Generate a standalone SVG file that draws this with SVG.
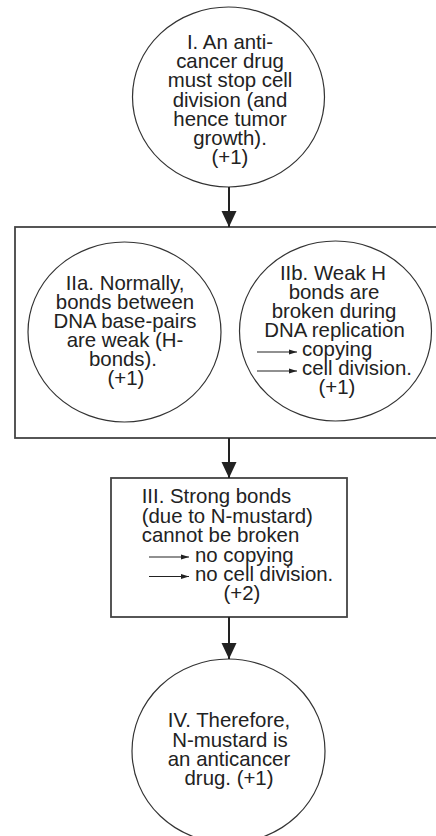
<svg xmlns="http://www.w3.org/2000/svg" width="436" height="836" viewBox="0 0 436 836">
<defs>
<marker id="big" viewBox="0 0 16 16" markerWidth="16" markerHeight="16" refX="16" refY="8" markerUnits="userSpaceOnUse" orient="auto">
<path d="M0,0.5 L16,8 L0,15.5 Z" fill="#222"/>
</marker>
<marker id="small" viewBox="0 0 8 6" markerWidth="8" markerHeight="6" refX="8" refY="3" markerUnits="userSpaceOnUse" orient="auto">
<path d="M0,0.5 L8,3 L0,5.5 Z" fill="#222"/>
</marker>
</defs>
<style>
text{font-family:"Liberation Sans",Arial,sans-serif;font-size:20.4px;fill:#222}
.c{text-anchor:middle}
.shape{fill:#fff;stroke:#333;stroke-width:1.2}
.box{fill:none;stroke:#444;stroke-width:1.8}
.conn{stroke:#222;stroke-width:2;fill:none;marker-end:url(#big)}
.inl{stroke:#222;stroke-width:1.2;fill:none;marker-end:url(#small)}
</style>
<rect width="436" height="836" fill="#fff"/>
<g id="node-I">
<ellipse class="shape" cx="228.5" cy="97" rx="96" ry="90"/>
<text class="c" x="230" y="49">I. An anti-</text>
<text class="c" x="230" y="68.2">cancer drug</text>
<text class="c" x="230" y="87.4">must stop cell</text>
<text class="c" x="230" y="106.6">division (and</text>
<text class="c" x="230" y="125.8">hence tumor</text>
<text class="c" x="230" y="145">growth).</text>
<text class="c" x="230" y="164.2">(+1)</text>
</g>
<g id="node-II">
<rect class="box" x="15" y="227" width="430" height="211"/>
</g>
<g id="node-IIa">
<ellipse class="shape" cx="124.5" cy="332" rx="96.5" ry="90"/>
<text class="c" x="125" y="290">IIa. Normally,</text>
<text class="c" x="125" y="309">bonds between</text>
<text class="c" x="125" y="328">DNA base-pairs</text>
<text class="c" x="125" y="347">are weak (H-</text>
<text class="c" x="123" y="366">bonds).</text>
<text class="c" x="126" y="385">(+1)</text>
</g>
<g id="node-IIb">
<ellipse class="shape" cx="335.5" cy="331" rx="96" ry="90"/>
<text class="c" x="333" y="280">IIb. Weak H</text>
<text class="c" x="334" y="299">bonds are</text>
<text class="c" x="334" y="318">broken during</text>
<text class="c" x="334.5" y="337">DNA replication</text>
<line class="inl" x1="257" y1="352" x2="297" y2="352"/>
<text x="302" y="356">copying</text>
<line class="inl" x1="257" y1="371" x2="297" y2="371"/>
<text x="302" y="375">cell division.</text>
<text class="c" x="337" y="394">(+1)</text>
</g>
<g id="node-III">
<rect class="box" x="111" y="478" width="236" height="139"/>
<text x="141.7" y="503">III. Strong bonds</text>
<text x="141.7" y="522.5">(due to N-mustard)</text>
<text x="141.7" y="542">cannot be broken</text>
<line class="inl" x1="149" y1="557" x2="189" y2="557"/>
<text x="195" y="561.5">no copying</text>
<line class="inl" x1="149" y1="576.5" x2="189" y2="576.5"/>
<text x="195" y="581">no cell division.</text>
<text class="c" x="242" y="600">(+2)</text>
</g>
<g id="node-IV">
<ellipse class="shape" cx="228.5" cy="751" rx="96.5" ry="92"/>
<text class="c" x="229" y="727.3">IV. Therefore,</text>
<text class="c" x="230" y="746.6">N-mustard is</text>
<text class="c" x="229" y="765.5">an anticancer</text>
<text class="c" x="229" y="784.5">drug. (+1)</text>
</g>
<g id="connectors">
<line class="conn" x1="229" y1="187" x2="229" y2="227"/>
<line class="conn" x1="229" y1="438" x2="229" y2="478"/>
<line class="conn" x1="229" y1="617" x2="229" y2="659"/>
</g>
</svg>
